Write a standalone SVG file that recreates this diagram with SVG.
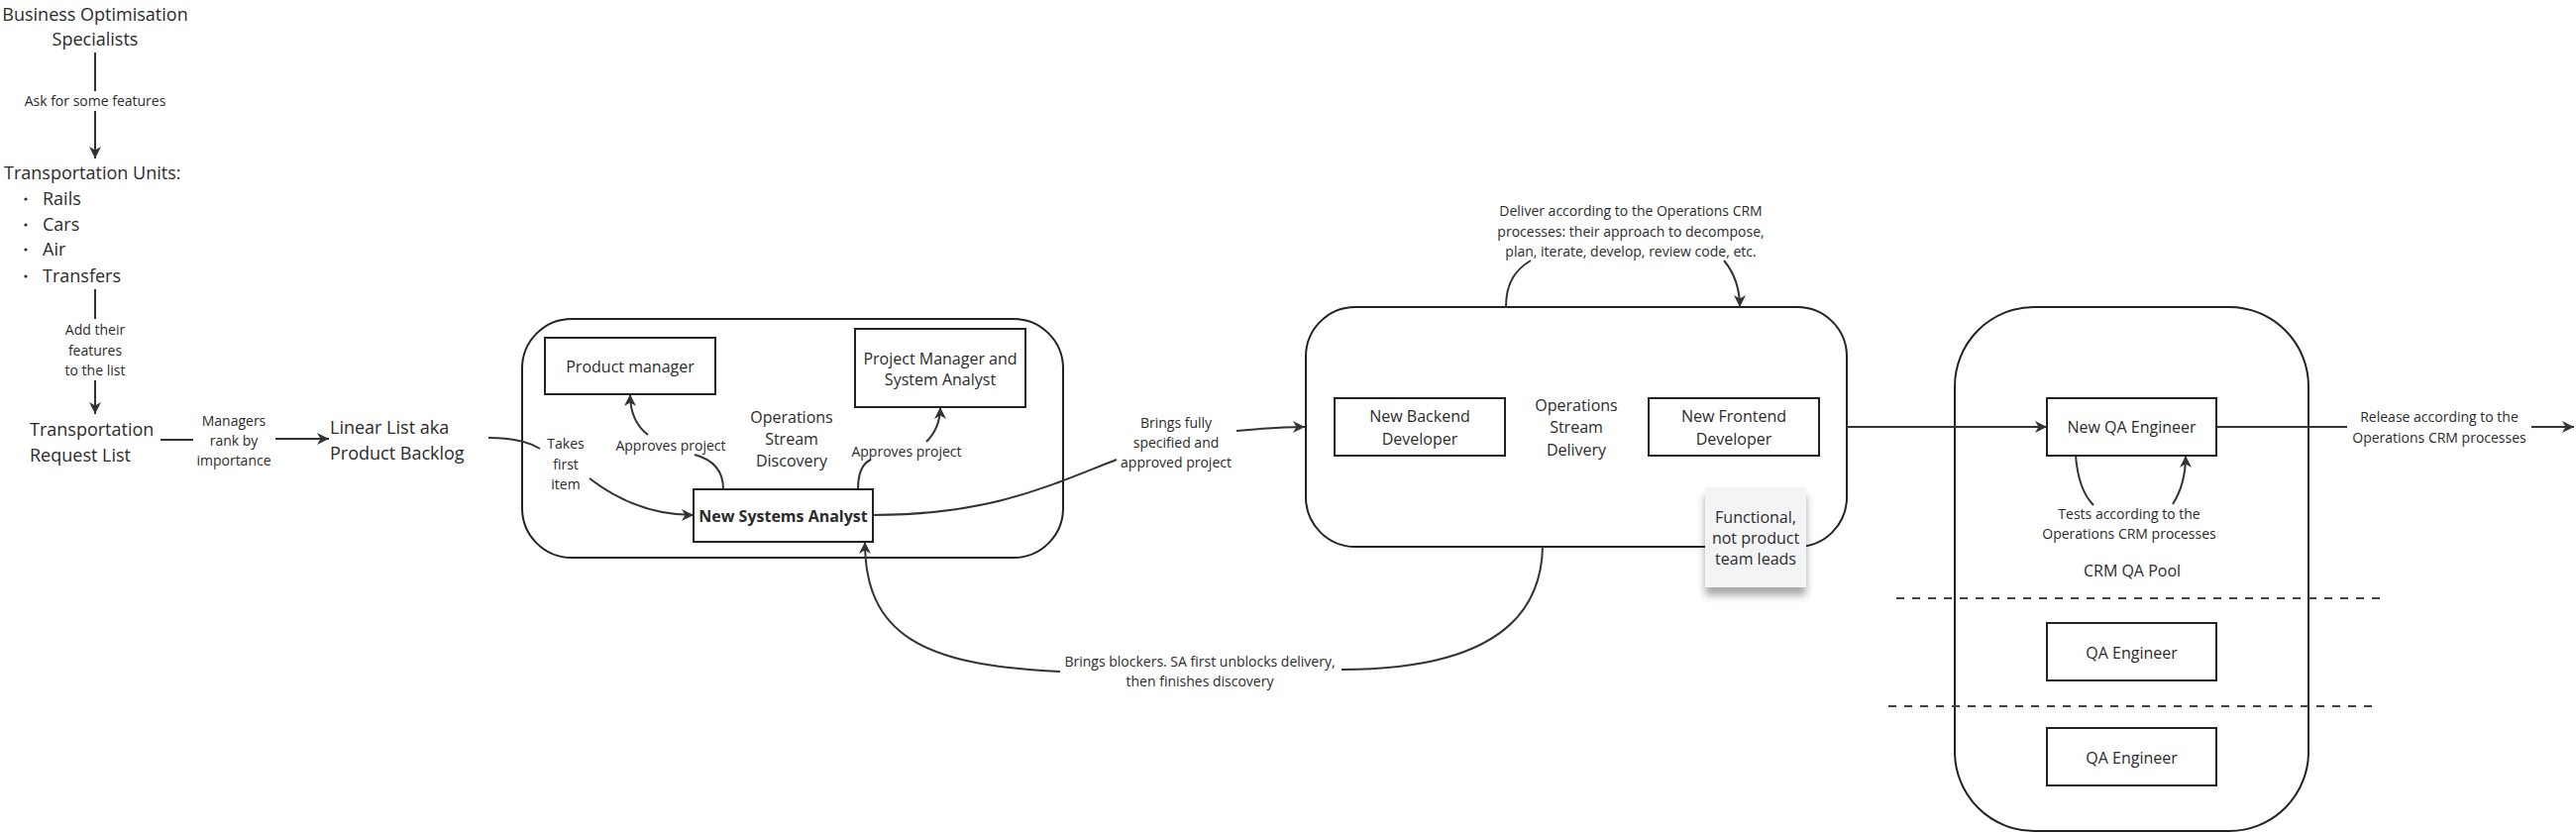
<svg xmlns="http://www.w3.org/2000/svg" width="2600" height="841" viewBox="0 0 2600 841">
<defs>
<style>
.t{font-family:"Open Sans","Noto Sans","DejaVu Sans",sans-serif;fill:#2b2b2b}
.big{font-size:18px}
.nd{font-size:16px}
.lb{font-size:14px}
.c{text-anchor:middle}
.b{font-weight:bold}
.box{fill:#fff;stroke:#222;stroke-width:2}
.cont{fill:#fff;stroke:#222;stroke-width:2}
.cn{fill:none;stroke:#333;stroke-width:2}
.ar{marker-end:url(#ah)}
.dash{fill:none;stroke:#444;stroke-width:2;stroke-dasharray:8 8}
</style>
<marker id="ah" viewBox="0 0 14 14" markerWidth="14" markerHeight="14" refX="13" refY="7" orient="auto" markerUnits="userSpaceOnUse">
<path d="M1,1 L13,7 L1,13 L4.5,7 z" fill="#333"/>
</marker>
<filter id="sh" x="-20%" y="-20%" width="140%" height="160%">
<feGaussianBlur in="SourceAlpha" stdDeviation="4"/>
<feOffset dx="0" dy="8" result="o"/>
<feComponentTransfer><feFuncA type="linear" slope="0.35"/></feComponentTransfer>
<feMerge><feMergeNode/><feMergeNode in="SourceGraphic"/></feMerge>
</filter>
</defs>
<rect width="2600" height="841" fill="#fff"/>

<!-- containers -->
<g id="discovery">
<rect class="cont" x="527" y="322" width="546" height="241" rx="50"/>
<text class="t nd c" x="799" y="427">Operations</text>
<text class="t nd c" x="799" y="449">Stream</text>
<text class="t nd c" x="799" y="471">Discovery</text>
</g>
<g id="delivery">
<rect class="cont" x="1318" y="310" width="546" height="242" rx="50"/>
<text class="t nd c" x="1591" y="415">Operations</text>
<text class="t nd c" x="1591" y="437">Stream</text>
<text class="t nd c" x="1591" y="460">Delivery</text>
</g>
<g id="qa-pool">
<rect class="cont" x="1973" y="310" width="357" height="529" rx="80"/>
<text class="t nd c" x="2152" y="582">CRM QA Pool</text>
<path class="dash" d="M1914 604 H2405"/>
<path class="dash" d="M1906 713 H2397"/>
</g>

<!-- connectors -->
<g id="connectors">
<path class="cn ar" d="M96 53 V92 M96 112 V160"/>
<path class="cn ar" d="M96 292 V322 M96 384 V418"/>
<path class="cn ar" d="M162 444 H195 M278 443 H332"/>
<path class="cn ar" d="M493 442 C520 442 535 447 545 453 M595 483 C630 510 665 520 700 520"/>
<path class="cn ar" d="M730 494 C730 475 720 464 701 459 M654 439 C642 430 636 416 636 398"/>
<path class="cn ar" d="M866 494 C866 478 870 468 879 464 M935 446 C945 436 949 425 949 411"/>
<path class="cn ar" d="M881 520 C1000 520 1060 490 1127 464 M1248 435 C1280 432 1300 431 1317 431"/>
<path class="cn ar" d="M1557 552 C1555 650 1460 676 1354 676 M1070 678 C930 672 873 640 873 547"/>
<path class="cn ar" d="M1520 310 C1520 285 1530 272 1545 263 M1740 263 C1750 275 1756 290 1756 310"/>
<path class="cn ar" d="M1864 431 H2066"/>
<path class="cn ar" d="M2237 431 H2369 M2555 431 H2598"/>
<path class="cn ar" d="M2095 460 C2097 485 2103 500 2113 510 M2193 509 C2202 495 2206 480 2206 460"/>

<text class="t lb c" x="96" y="107">Ask for some features</text>
<text class="t lb c" x="96" y="338">Add their</text>
<text class="t lb c" x="96" y="359">features</text>
<text class="t lb c" x="96" y="379">to the list</text>
<text class="t lb c" x="236" y="430">Managers</text>
<text class="t lb c" x="236" y="450">rank by</text>
<text class="t lb c" x="236" y="470">importance</text>
<text class="t lb c" x="571" y="453">Takes</text>
<text class="t lb c" x="571" y="474">first</text>
<text class="t lb c" x="571" y="494">item</text>
<text class="t lb c" x="677" y="455">Approves project</text>
<text class="t lb c" x="915" y="461">Approves project</text>
<text class="t lb c" x="1187" y="432">Brings fully</text>
<text class="t lb c" x="1187" y="452">specified and</text>
<text class="t lb c" x="1187" y="472">approved project</text>
<text class="t lb c" x="1211" y="673">Brings blockers. SA first unblocks delivery,</text>
<text class="t lb c" x="1211" y="693">then finishes discovery</text>
<text class="t lb c" x="1646" y="218">Deliver according to the Operations CRM</text>
<text class="t lb c" x="1646" y="239">processes: their approach to decompose,</text>
<text class="t lb c" x="1646" y="259">plan, iterate, develop, review code, etc.</text>
<text class="t lb c" x="2462" y="426">Release according to the</text>
<text class="t lb c" x="2462" y="447">Operations CRM processes</text>
<text class="t lb c" x="2149" y="524">Tests according to the</text>
<text class="t lb c" x="2149" y="544">Operations CRM processes</text>
</g>

<!-- nodes -->
<g id="bos">
<text class="t big c" x="96" y="20.5">Business Optimisation</text>
<text class="t big c" x="96" y="45.5">Specialists</text>
</g>
<g id="transport-units">
<text class="t big" x="4" y="181">Transportation Units:</text>
<circle cx="26" cy="201" r="1.6" fill="#2b2b2b"/>
<circle cx="26" cy="227" r="1.6" fill="#2b2b2b"/>
<circle cx="26" cy="252" r="1.6" fill="#2b2b2b"/>
<circle cx="26" cy="279" r="1.6" fill="#2b2b2b"/>
<text class="t big" x="43" y="207">Rails</text>
<text class="t big" x="43" y="233">Cars</text>
<text class="t big" x="43" y="258">Air</text>
<text class="t big" x="43" y="285">Transfers</text>
</g>
<g id="request-list">
<text class="t big" x="30" y="439.5">Transportation</text>
<text class="t big" x="30" y="465.5">Request List</text>
</g>
<g id="backlog">
<text class="t big" x="333" y="437.5">Linear List aka</text>
<text class="t big" x="333" y="463.5">Product Backlog</text>
</g>
<g id="product-manager">
<rect class="box" x="550" y="341" width="172" height="57"/>
<text class="t nd c" x="636" y="375.5">Product manager</text>
</g>
<g id="pm-sa">
<rect class="box" x="863" y="332" width="172" height="79"/>
<text class="t nd c" x="949" y="367.5">Project Manager and</text>
<text class="t nd c" x="949" y="388.5">System Analyst</text>
</g>
<g id="new-sa">
<rect class="box" x="700" y="494" width="181" height="53"/>
<text class="t nd c b" x="790.5" y="527">New Systems Analyst</text>
</g>
<g id="backend">
<rect class="box" x="1347" y="402" width="172" height="58"/>
<text class="t nd c" x="1433" y="425.5">New Backend</text>
<text class="t nd c" x="1433" y="448.5">Developer</text>
</g>
<g id="frontend">
<rect class="box" x="1664" y="402" width="172" height="58"/>
<text class="t nd c" x="1750" y="425.5">New Frontend</text>
<text class="t nd c" x="1750" y="448.5">Developer</text>
</g>
<g id="note">
<rect x="1721" y="492" width="102" height="101" fill="#f3f4f6" filter="url(#sh)"/>
<text class="t nd c" x="1772" y="527.5">Functional,</text>
<text class="t nd c" x="1772" y="548.5">not product</text>
<text class="t nd c" x="1772" y="569.5">team leads</text>
</g>
<g id="new-qa">
<rect class="box" x="2066" y="402" width="171" height="58"/>
<text class="t nd c" x="2151.5" y="436.5">New QA Engineer</text>
</g>
<g id="qa1">
<rect class="box" x="2066" y="629" width="171" height="58"/>
<text class="t nd c" x="2151.5" y="664.5">QA Engineer</text>
</g>
<g id="qa2">
<rect class="box" x="2066" y="735" width="171" height="58"/>
<text class="t nd c" x="2151.5" y="770.5">QA Engineer</text>
</g>
</svg>
